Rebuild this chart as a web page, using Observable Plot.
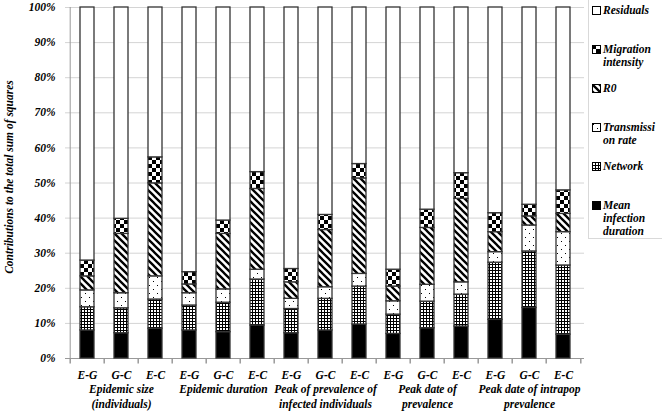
<!DOCTYPE html>
<html>
<head>
<meta charset="utf-8">
<script src="https://cdn.jsdelivr.net/npm/d3@7"></script>
<script src="https://cdn.jsdelivr.net/npm/@observablehq/plot@0.6"></script>
<style>
  body { margin: 0; background: white; }
  #wrap { position: relative; width: 662px; height: 412px; overflow: hidden; }
  #legend { position: absolute; left: 588px; top: -1px; width: 90px; height: 240px; border: 1px solid #d9d9d9; box-sizing: border-box;
    font-family: "Liberation Serif", Tinos, Times, "DejaVu Serif", serif; font-weight: bold; font-style: italic; font-size: 11.5px; color: black; }
  .item { position: absolute; left: 3px; }
  .item svg { position: absolute; left: 0; top: 2px; }
  .item .lbl { position: absolute; left: 11px; top: 0; line-height: 13px; white-space: pre; }
  svg.chart text { font-family: "Liberation Serif", Tinos, Times, "DejaVu Serif", serif; }
</style>
</head>
<body>
<svg width="0" height="0" style="position:absolute">
  <defs>
    <pattern id="pNet" patternUnits="userSpaceOnUse" width="3" height="3">
      <rect width="3" height="3" fill="white"/>
      <path d="M0,0.5H3M0.5,0V3" stroke="black" stroke-width="1"/>
    </pattern>
    <pattern id="pDots" patternUnits="userSpaceOnUse" width="8" height="8">
      <rect width="8" height="8" fill="white"/>
      <rect x="1" y="1" width="1" height="1" fill="black"/>
      <rect x="5" y="5" width="1" height="1" fill="black"/>
    </pattern>
    <pattern id="pDiag" patternUnits="userSpaceOnUse" width="7" height="7">
      <rect width="7" height="7" fill="white"/>
      <path d="M-1,-1L8,8M-1,6L1,8M6,-1L8,1" stroke="black" stroke-width="2.3"/>
    </pattern>
    <pattern id="pCheck" patternUnits="userSpaceOnUse" width="8" height="8">
      <rect width="8" height="8" fill="white"/>
      <rect width="4" height="4" fill="black"/>
      <rect x="4" y="4" width="4" height="4" fill="black"/>
    </pattern>
  </defs>
</svg>
<div id="wrap"><div id="legend"></div></div>
<script>
// ---- data ----
const groups = ["Epidemic size\n(individuals)", "Epidemic duration", "Peak of prevalence of\ninfected individuals", "Peak date of\nprevalence", "Peak date of intrapop\nprevalence"];
const comparisons = ["E-G", "G-C", "E-C"];
const seriesNames = ["Mean infection duration", "Network", "Transmission rate", "R0", "Migration intensity", "Residuals"];
const legendLabels = ["Mean\ninfection\nduration", "Network", "Transmissi\non rate", "R0", "Migration\nintensity", "Residuals"];
const seriesFills = ["black", "url(#pNet)", "url(#pDots)", "url(#pDiag)", "url(#pCheck)", "white"];
const yTicks = [0, 10, 20, 30, 40, 50, 60, 70, 80, 90, 100];
const yTitle = "Contributions to the total sum of squares";

// values in % per bar (group order x comparison order)
const meanInfection = [8.0, 7.2, 8.5, 8.0, 7.5, 9.4, 7.2, 8.0, 9.7, 7.0, 8.6, 9.1, 11.0, 14.4, 6.8];
const network       = [6.6, 7.1, 8.3, 7.1, 8.4, 13.1, 6.9, 9.0, 10.8, 5.5, 7.6, 9.1, 16.3, 16.1, 19.7];
const transmission  = [4.8, 4.3, 6.6, 3.5, 3.8, 2.8, 2.9, 3.3, 3.6, 3.8, 4.8, 3.5, 3.0, 7.4, 9.5];
const r0            = [4.0, 16.9, 26.5, 2.5, 15.8, 23.0, 4.7, 16.3, 27.2, 4.2, 16.2, 23.8, 5.7, 2.6, 5.2];
const migration     = [4.5, 4.3, 7.4, 3.5, 3.8, 4.8, 3.8, 4.3, 4.1, 4.8, 5.2, 7.3, 5.4, 3.3, 6.7];
const residuals     = [72.1, 60.2, 42.7, 75.4, 60.7, 46.9, 74.5, 59.1, 44.6, 74.7, 57.6, 47.2, 58.6, 56.2, 52.1];
const seriesValues = [meanInfection, network, transmission, r0, migration, residuals];

// ---- build table ----
const keys = groups.flatMap(g => comparisons.map(c => g + "|" + c));
const table = [];
keys.forEach((k, i) => {
  seriesNames.forEach((s, j) => table.push({key: k, series: s, value: seriesValues[j][i]}));
});

const W = 662, H = 412, ML = 65, MR = 78, MT = 7, MB = 54;
const step = (W - ML - MR) / keys.length;
const tickSymbol = {draw(ctx) { ctx.moveTo(0, 0); ctx.lineTo(0, 5); }};

const chart = Plot.plot({
  width: W, height: H,
  marginLeft: ML, marginRight: MR, marginTop: MT, marginBottom: MB,
  style: {fontFamily: "\"Liberation Serif\", Tinos, Times, \"DejaVu Serif\", serif", fontSize: "11.5px", fontWeight: "bold", fontStyle: "italic", color: "black", background: "white", overflow: "visible"},
  x: {domain: keys, paddingInner: 0.6, paddingOuter: 0.3, tickFormat: k => k.split("|")[1], tickSize: 0, tickPadding: 12, label: null},
  y: {domain: [0, 100], ticks: yTicks, tickFormat: d => d + "%", tickSize: 0, tickPadding: 10, label: null},
  color: {domain: seriesNames, range: seriesFills},
  marks: [
    Plot.ruleY(yTicks.slice(1), {stroke: "#d4d4d4", strokeWidth: 1}),
    Plot.ruleY([0], {stroke: "#999"}),
    Plot.ruleX([keys[0]], {x: d => d, dx: -step / 2, y1: 0, y2: 100, stroke: "#999"}),
    Plot.dot(keys, {x: d => d, y: 0, symbol: tickSymbol, fill: "none", stroke: "#999", dx: -step / 2}),
    Plot.dot([keys[keys.length - 1]], {x: d => d, y: 0, symbol: tickSymbol, fill: "none", stroke: "#999", dx: step / 2}),
    Plot.barY(table, {x: "key", y: "value", fill: "series", stroke: "#333", strokeWidth: 1.3}),
    Plot.text(groups, {x: g => g + "|G-C", y: 0, text: d => d, lineAnchor: "top", dy: 24, lineHeight: 1.28}),
    Plot.text([yTitle], {frameAnchor: "left", textAnchor: "middle", rotate: -90, dx: -56, dy: -6, text: d => d})
  ]
});
chart.classList.add("chart");
const wrap = document.getElementById("wrap");
wrap.insertBefore(chart, wrap.firstChild);

// ---- legend (top-down: reverse of stack) ----
const legend = document.getElementById("legend");
seriesNames.map((s, j) => j).reverse().forEach((j, i) => {
  const item = document.createElement("div");
  item.className = "item";
  item.style.top = (3.5 + 39 * i) + "px";
  item.innerHTML = `<svg width="9" height="9"><rect x="0.5" y="0.5" width="8" height="8" fill="${seriesFills[j]}" stroke="black"/></svg><div class="lbl"></div>`;
  item.querySelector(".lbl").textContent = legendLabels[j];
  legend.appendChild(item);
});
</script>
</body>
</html>
